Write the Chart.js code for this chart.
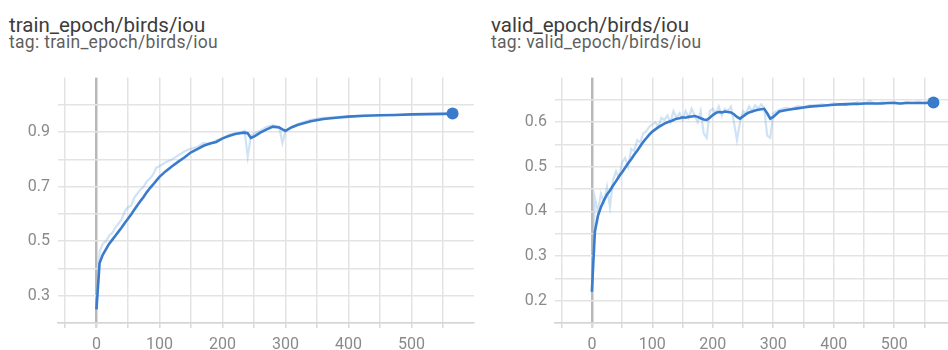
<!DOCTYPE html>
<html>
<head>
<meta charset="utf-8">
<script src="https://cdn.jsdelivr.net/npm/chart.js@4.4.1/dist/chart.umd.min.js"></script>
<style>
  html, body { margin: 0; padding: 0; background: #ffffff; }
  body { width: 948px; height: 350px; overflow: hidden; position: relative; font-family: Roboto, "Noto Sans", sans-serif; }
  .title { position: absolute; font-size: 20.5px; line-height: 1; color: #3c3c3c; white-space: nowrap; }
  .tag { position: absolute; font-size: 17.5px; line-height: 1; color: #5f5f5f; white-space: nowrap; letter-spacing: 0.3px; }
  canvas { position: absolute; top: 60px; }
</style>
</head>
<body>
<div class="title" style="left:9px; top:14.8px;">train_epoch/birds/iou</div>
<div class="tag" style="left:9px; top:34.3px;">tag: train_epoch/birds/iou</div>
<div class="title" style="left:491px; top:14.8px;">valid_epoch/birds/iou</div>
<div class="tag" style="left:491px; top:34.3px;">tag: valid_epoch/birds/iou</div>

<canvas id="train" width="480" height="290" style="left:0px;"></canvas>
<canvas id="valid" width="480" height="290" style="left:480px;"></canvas>

<script>
// ---- train_epoch/birds/iou ----
const trainSteps = [
  0, 5, 10, 15, 20, 25, 30, 35, 40, 45,
  50, 55, 60, 65, 70, 75, 80, 85, 90, 95,
  100, 110, 120, 130, 140, 150, 160, 170, 180, 190,
  200, 210, 220, 230, 235, 240, 245, 250, 260, 270,
  280, 290, 295, 300, 310, 320, 340, 360, 380, 400,
  425, 450, 475, 500, 525, 550, 565
];
const trainRaw = [
  0.25, 0.46, 0.49, 0.50, 0.52, 0.53, 0.55, 0.565, 0.58, 0.61,
  0.625, 0.63, 0.66, 0.675, 0.69, 0.70, 0.72, 0.73, 0.745, 0.77,
  0.775, 0.79, 0.80, 0.815, 0.83, 0.84, 0.845, 0.86, 0.855, 0.87,
  0.875, 0.89, 0.895, 0.90, 0.905, 0.81, 0.885, 0.895, 0.905, 0.92,
  0.925, 0.92, 0.86, 0.905, 0.92, 0.93, 0.945, 0.952, 0.955, 0.958,
  0.961, 0.962, 0.963, 0.965, 0.966, 0.967, 0.968
];
const trainSmoothed = [
  0.25, 0.42, 0.45, 0.47, 0.49, 0.505, 0.52, 0.535, 0.55, 0.567,
  0.582, 0.598, 0.615, 0.632, 0.648, 0.663, 0.68, 0.695, 0.708, 0.722,
  0.736, 0.757, 0.775, 0.792, 0.808, 0.826, 0.838, 0.85, 0.858, 0.864,
  0.877, 0.886, 0.893, 0.897, 0.898, 0.896, 0.879, 0.884, 0.898, 0.91,
  0.92, 0.917, 0.91, 0.905, 0.918, 0.927, 0.94, 0.948, 0.953, 0.957,
  0.96, 0.962, 0.963, 0.965, 0.966, 0.967, 0.968
];
const trainYGrid = [0.2, 0.3, 0.4, 0.5, 0.6, 0.7, 0.8, 0.9, 1.0];
const trainYLabels = [0.3, 0.5, 0.7, 0.9];

// ---- valid_epoch/birds/iou ----
const validSteps = [
  0, 5, 10, 15, 20, 25, 30, 35, 40, 45,
  50, 55, 60, 65, 70, 75, 80, 85, 90, 95,
  100, 105, 110, 115, 120, 125, 130, 135, 140, 145,
  150, 155, 160, 165, 170, 175, 180, 185, 190, 195,
  200, 205, 210, 215, 220, 225, 230, 235, 240, 245,
  250, 255, 260, 265, 270, 275, 280, 285, 290, 295,
  300, 310, 320, 330, 340, 350, 360, 370, 380, 390,
  400, 410, 420, 430, 440, 450, 460, 470, 480, 490,
  500, 510, 520, 530, 540, 550, 560, 565
];
const validRaw = [
  0.22, 0.43, 0.40, 0.44, 0.42, 0.455, 0.41, 0.47, 0.49, 0.475,
  0.51, 0.52, 0.50, 0.54, 0.535, 0.56, 0.555, 0.575, 0.58, 0.59,
  0.595, 0.60, 0.59, 0.61, 0.605, 0.615, 0.60, 0.625, 0.61, 0.62,
  0.605, 0.625, 0.61, 0.63, 0.615, 0.60, 0.625, 0.575, 0.565, 0.625,
  0.63, 0.62, 0.635, 0.615, 0.63, 0.625, 0.635, 0.60, 0.56, 0.60,
  0.625, 0.62, 0.635, 0.625, 0.638, 0.63, 0.64, 0.632, 0.57, 0.565,
  0.62, 0.628, 0.632, 0.63, 0.636, 0.634, 0.638, 0.637, 0.64, 0.638,
  0.642, 0.64, 0.643, 0.64, 0.645, 0.641, 0.648, 0.64, 0.645, 0.643,
  0.646, 0.641, 0.645, 0.643, 0.646, 0.642, 0.645, 0.644
];
const validSmoothed = [
  0.22, 0.355, 0.39, 0.41, 0.425, 0.438, 0.447, 0.458, 0.468, 0.479,
  0.488, 0.498, 0.508, 0.517, 0.527, 0.536, 0.546, 0.556, 0.564, 0.572,
  0.579, 0.584, 0.589, 0.593, 0.597, 0.6, 0.602, 0.605, 0.608, 0.609,
  0.611, 0.61, 0.612, 0.613, 0.614, 0.612, 0.609, 0.606, 0.605, 0.61,
  0.616, 0.621, 0.623, 0.622, 0.624, 0.623, 0.622, 0.618, 0.612, 0.608,
  0.613, 0.618, 0.622, 0.624, 0.626, 0.628, 0.629, 0.63, 0.62, 0.608,
  0.612, 0.624, 0.627, 0.629, 0.631, 0.633, 0.635, 0.636, 0.637, 0.638,
  0.639, 0.64, 0.64, 0.641, 0.641, 0.642, 0.642, 0.642, 0.642, 0.643,
  0.643, 0.642, 0.643, 0.643, 0.643, 0.643, 0.644, 0.644
];
const validYGrid = [0.15, 0.2, 0.25, 0.3, 0.35, 0.4, 0.45, 0.5, 0.55, 0.6, 0.65];
const validYLabels = [0.2, 0.3, 0.4, 0.5, 0.6];

// shared step axis
const stepGrid = [-50, 0, 50, 100, 150, 200, 250, 300, 350, 400, 450, 500, 550];
const stepLabels = [0, 100, 200, 300, 400, 500];

const LINE = '#3a7ccb';
const RAW = 'rgba(120, 175, 225, 0.35)';
const GRID = '#e3e3e3';
const ZERO = '#b8b8b8';
const TICK_TEXT = '#8a8a8a';

function pairs(xs, ys) {
  return xs.map((x, i) => ({ x: x, y: ys[i] }));
}
function has(list, v) {
  return list.some(u => Math.abs(u - v) < 1e-6);
}

function makeChart(id, steps, raw, smooth, yMin, yMax, yGrid, yLabels, yAxisWidth, padRight) {
  const last = steps.length - 1;
  return new Chart(document.getElementById(id), {
    type: 'line',
    data: {
      datasets: [
        {
          label: 'smoothed',
          data: pairs(steps, smooth),
          borderColor: LINE,
          backgroundColor: LINE,
          borderWidth: 2.6,
          tension: 0,
          pointRadius: c => (c.dataIndex === last ? 6 : 0),
          pointHoverRadius: 0,
          pointBorderWidth: 0,
          order: 0
        },
        {
          label: 'raw',
          data: pairs(steps, raw),
          borderColor: RAW,
          borderWidth: 2.2,
          tension: 0,
          pointRadius: 0,
          order: 1
        }
      ]
    },
    options: {
      responsive: false,
      devicePixelRatio: 1,
      animation: false,
      layout: { padding: { left: 0, right: padRight, top: 10, bottom: 0 } },
      plugins: { legend: { display: false }, tooltip: { enabled: false } },
      scales: {
        x: {
          type: 'linear',
          min: -61,
          max: 599,
          afterBuildTicks: axis => { axis.ticks = stepGrid.map(v => ({ value: v })); },
          afterFit: axis => { axis.height = 27; },
          ticks: {
            autoSkip: false,
            maxRotation: 0,
            padding: 7,
            color: TICK_TEXT,
            font: { family: 'Roboto', size: 16 },
            callback: v => (has(stepLabels, v) ? String(v) : '')
          },
          grid: {
            color: c => (c.tick && c.tick.value === 0 ? ZERO : GRID),
            lineWidth: c => (c.tick && c.tick.value === 0 ? 2.5 : 1.5),
            tickColor: '#d8d8d8',
            tickLength: 5,
            drawTicks: true
          },
          border: { display: true, color: '#d4d4d4', width: 1.5 }
        },
        y: {
          type: 'linear',
          min: yMin,
          max: yMax,
          afterBuildTicks: axis => { axis.ticks = yGrid.map(v => ({ value: v })); },
          afterFit: axis => { axis.width = yAxisWidth; },
          ticks: {
            autoSkip: false,
            padding: 8,
            color: TICK_TEXT,
            font: { family: 'Roboto', size: 16 },
            callback: v => (has(yLabels, v) ? v.toFixed(1) : '')
          },
          grid: { color: GRID, lineWidth: 1.5, drawTicks: false },
          border: { display: false }
        }
      }
    }
  });
}

makeChart('train', trainSteps, trainRaw, trainSmoothed, 0.2, 1.1, trainYGrid, trainYLabels, 58, 4);
makeChart('valid', validSteps, validRaw, validSmoothed, 0.15, 0.7, validYGrid, validYLabels, 75, 1.7);
</script>
</body>
</html>
